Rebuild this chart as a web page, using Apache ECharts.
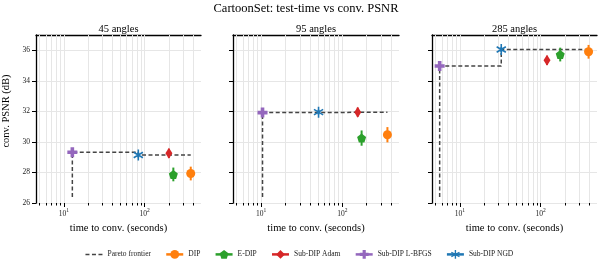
<!DOCTYPE html>
<html><head><meta charset="utf-8">
<script src="https://cdn.jsdelivr.net/npm/echarts@6/dist/echarts.min.js"></script>
<style>html,body{margin:0;padding:0;background:#fff}#c{width:598px;height:264px}</style>
</head><body><div id="c"></div>
<script>
// ---------- data ----------
const panelTitles = ['45 angles', '95 angles', '285 angles'];
const methodNames = ['DIP', 'E-DIP', 'Sub-DIP Adam', 'Sub-DIP L-BFGS', 'Sub-DIP NGD'];
const timeDIP   = [373, 360, 393];
const psnrDIP   = [27.93, 30.47, 35.9];
const errDIP    = [0.45, 0.5, 0.45];
const timeEDIP  = [227, 173, 175];
const psnrEDIP  = [27.87, 30.25, 35.72];
const errEDIP   = [0.45, 0.5, 0.45];
const timeAdam  = [200, 155, 120];
const psnrAdam  = [29.25, 31.95, 35.34];
const errAdam   = [0.3, 0.3, 0.3];
const timeLBFGS = [12.7, 10.4, 5.6];
const psnrLBFGS = [29.32, 31.92, 34.97];
const errLBFGS  = [0.15, 0.15, 0.15];
const timeNGD   = [83.5, 51, 32.5];
const psnrNGD   = [29.14, 31.95, 36.05];
const errNGD    = [0.15, 0.15, 0.15];
const frontierStart = 26.4;
const yTicks = [26, 28, 30, 32, 34, 36];
const xMajorTicks = [10, 100];
const xMinorTicks = [5, 6, 7, 8, 9, 20, 30, 40, 50, 60, 70, 80, 90, 200, 300, 400];

// ---------- style ----------
const FONT = 'Liberation Serif';
const XMIN = 4.5, XMAX = 500, YMIN = 26, YMAX = 37;
const gridLefts = [36, 233, 432];
const gridWidths = [165, 166, 165];
const GTOP = 35, GH = 168;
const colors = ['#ff7f0e', '#2ca02c', '#d62728', '#9467bd', '#1f77b4'];
const PENT = 'path://M0,-1 L0.951,-0.309 L0.588,0.809 L-0.588,0.809 L-0.951,-0.309 Z';
const PLUS = 'path://M-0.36,-1 L0.36,-1 L0.36,-0.36 L1,-0.36 L1,0.36 L0.36,0.36 L0.36,1 L-0.36,1 L-0.36,0.36 L-1,0.36 L-1,-0.36 L-0.36,-0.36 Z';
const AST = 'path://M-0.15,-1 L0.15,-1 L0.15,1 L-0.15,1 Z M0.791,-0.63 L0.941,-0.37 L-0.791,0.63 L-0.941,0.37 Z M-0.941,-0.37 L-0.791,-0.63 L0.941,0.37 L0.791,0.63 Z';
const symbols = ['circle', PENT, 'diamond', PLUS, AST];
const symbolSizes = [9, 9, [7, 11], 10, [10, 11]];
const times = [timeDIP, timeEDIP, timeAdam, timeLBFGS, timeNGD];
const psnrs = [psnrDIP, psnrEDIP, psnrAdam, psnrLBFGS, psnrNGD];
const errs = [errDIP, errEDIP, errAdam, errLBFGS, errNGD];

const grids = [], xAxes = [], yAxes = [], series = [], titles = [];
titles.push({text: 'CartoonSet: test-time vs conv. PSNR', left: 306, top: 2, padding: 0, textAlign: 'center',
  textStyle: {fontFamily: FONT, fontSize: 12.5, fontWeight: 'normal', color: '#000'}});

for (let i = 0; i < 3; i++) {
  grids.push({left: gridLefts[i], top: GTOP, width: gridWidths[i], height: GH});
  titles.push({text: panelTitles[i], left: gridLefts[i] + gridWidths[i] / 2, top: 23.5, padding: 0, textAlign: 'center',
    textStyle: {fontFamily: FONT, fontSize: 10.5, fontWeight: 'normal', color: '#000'}});
  const base = {type: 'log', logBase: 10, gridIndex: i, min: XMIN, max: XMAX, splitLine: {show: false}};
  // main axis with labels
  xAxes.push(Object.assign({}, base, {
    position: 'bottom', axisLine: {show: false},
    axisTick: {show: true, customValues: xMajorTicks, length: 4, lineStyle: {color: '#000', width: 1}},
    axisLabel: {show: true, customValues: xMajorTicks, margin: 5,
      formatter: v => '{b|10}{s|' + Math.round(Math.log10(v)) + '}',
      rich: {b: {fontFamily: FONT, fontSize: 7.5, color: '#222', verticalAlign: 'bottom', lineHeight: 10},
             s: {fontFamily: FONT, fontSize: 5.5, color: '#222', verticalAlign: 'bottom', lineHeight: 10, padding: [0, 0, 4, 0]}}},
    name: 'time to conv. (seconds)', nameLocation: 'middle', nameGap: 19,
    nameTextStyle: {fontFamily: FONT, fontSize: 10.5, color: '#000'}
  }));
  // minor ticks
  xAxes.push(Object.assign({}, base, {
    position: 'bottom', axisLine: {show: false},
    axisTick: {show: true, customValues: xMinorTicks, length: 2.5, lineStyle: {color: '#000', width: 1}},
    axisLabel: {show: false}
  }));
  // vertical grid lines
  xAxes.push(Object.assign({}, base, {
    position: 'bottom', axisLine: {show: false},
    axisTick: {show: true, inside: true, customValues: xMinorTicks.concat(xMajorTicks), length: GH, lineStyle: {color: '#e6e6e6', width: 1}},
    axisLabel: {show: false}
  }));
  // top spine
  xAxes.push(Object.assign({}, base, {
    position: 'top', axisLine: {show: true, lineStyle: {color: '#000', width: 1.3}},
    axisTick: {show: false}, axisLabel: {show: false}
  }));
  yAxes.push({
    type: 'value', gridIndex: i, min: YMIN, max: YMAX, interval: 2,
    axisLine: {show: true, lineStyle: {color: '#000', width: 1.3}},
    axisTick: {show: true, customValues: yTicks, length: 4, lineStyle: {color: '#000', width: 1}},
    axisLabel: {show: i === 0, customValues: yTicks, fontFamily: FONT, fontSize: 7.5, color: '#222', margin: 6},
    splitLine: {show: true, lineStyle: {color: '#e6e6e6', width: 1}},
    name: i === 0 ? 'conv. PSNR (dB)' : '', nameLocation: 'middle', nameGap: 24,
    nameTextStyle: {fontFamily: FONT, fontSize: 10.5, color: '#000', padding: [0, 0, 0, 16]}
  });
  const xi = i * 4;
  // Pareto frontier (through L-BFGS and NGD points), extended to the slowest method
  const tL = timeLBFGS[i], pL = psnrLBFGS[i], tN = timeNGD[i], pN = psnrNGD[i];
  const tEnd = Math.max(...times.map(a => a[i]));
  series.push({type: 'line', name: 'Pareto frontier', xAxisIndex: xi, yAxisIndex: i, symbol: 'none',
    data: [[tL, frontierStart], [tL, pL], [tN, pL], [tN, pN], [tEnd, pN]],
    lineStyle: {color: '#444', width: 1.5, type: [4, 2.5]}, itemStyle: {color: '#444'}, z: 3, silent: true});
  for (let m = 0; m < 5; m++) {
    const col = colors[m];
    series.push({type: 'custom', xAxisIndex: xi, yAxisIndex: i, z: 4, silent: true,
      data: [[times[m][i], psnrs[m][i] - errs[m][i], psnrs[m][i] + errs[m][i]]],
      encode: {x: 0, y: [1, 2]},
      renderItem: (params, api) => {
        const a = api.coord([api.value(0), api.value(1)]);
        const b = api.coord([api.value(0), api.value(2)]);
        return {type: 'line', shape: {x1: a[0], y1: a[1], x2: b[0], y2: b[1]}, style: {stroke: col, lineWidth: 2}};
      }});
    series.push({type: 'line', name: methodNames[m], xAxisIndex: xi, yAxisIndex: i,
      data: [[times[m][i], psnrs[m][i]]], symbol: symbols[m], symbolSize: symbolSizes[m], showSymbol: true,
      itemStyle: {color: col, borderWidth: 0}, lineStyle: {color: col, width: 2}, z: 5, silent: true});
  }
}

const legendData = [{name: 'Pareto frontier', itemStyle: {opacity: 0}, lineStyle: {width: 1.5, type: [4, 2.5]}}]
  .concat(methodNames.map(n => ({name: n, lineStyle: {width: 2.5}})));
const chart = echarts.init(document.getElementById('c'), null, {renderer: 'canvas'});
chart.setOption({
  animation: false,
  backgroundColor: '#fff',
  title: titles,
  grid: grids,
  xAxis: xAxes,
  yAxis: yAxes,
  legend: {data: legendData, left: 'center', top: 245, itemWidth: 17, itemHeight: 11, itemGap: 14,
    textStyle: {fontFamily: FONT, fontSize: 7.5, color: '#222'}},
  series: series
});
</script></body></html>
